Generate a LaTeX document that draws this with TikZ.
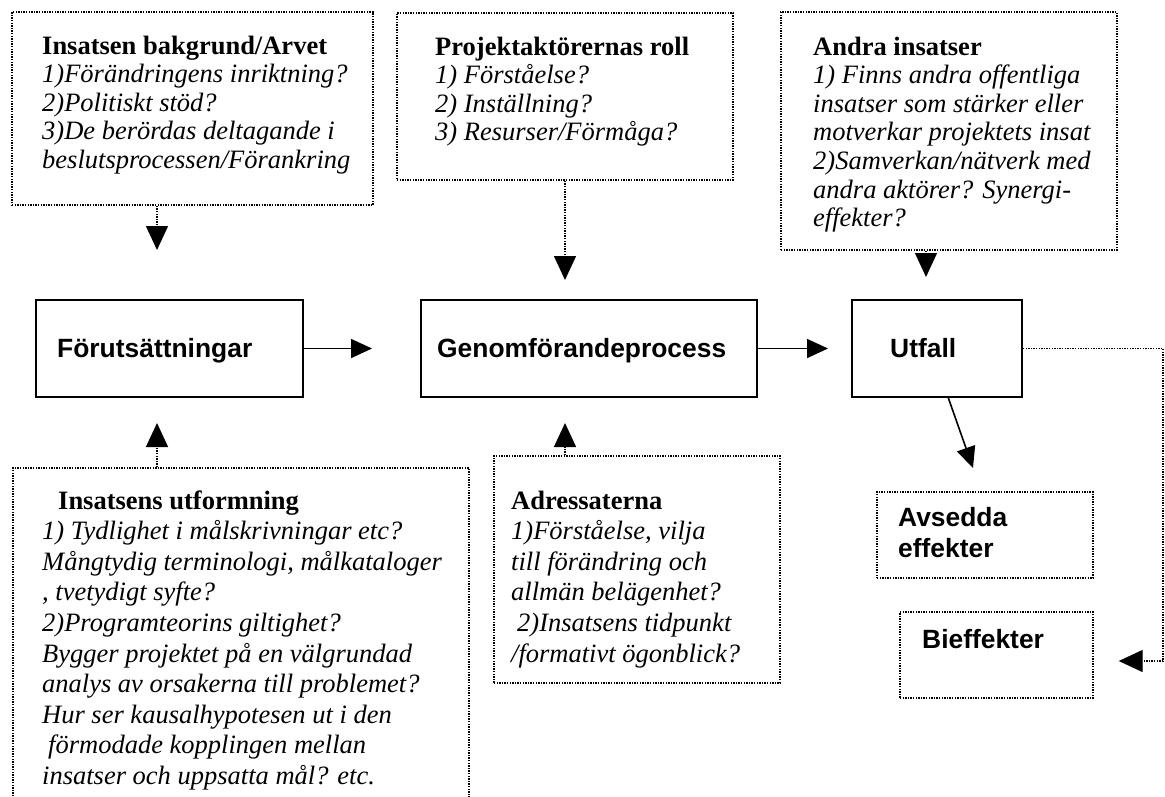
\documentclass[tikz,border=0pt]{standalone}
\usepackage{fontspec}
\setmainfont{Liberation Serif}
\setsansfont{Liberation Sans}
\usetikzlibrary{arrows.meta}
\newcommand\txtlines[1]{\vtop{\lineskiplimit=-100pt\lineskip=0pt\halign{##\hfil\cr#1\crcr}}}
\tikzset{
  solidbox/.style={draw, line width=2pt, inner sep=0pt},
  dotbox/.style={draw, line width=1.4pt, dash pattern=on 1.4pt off 1.2pt, inner sep=0pt},
  sarrow/.style={line width=1.6pt, -{Triangle[width=19pt,length=21pt]}},
  darrow/.style={line width=1.4pt, dash pattern=on 1.4pt off 1.2pt, -{Triangle[width=22pt,length=24pt]}},
  sertop/.style={anchor=base west, inner sep=0pt, font=\fontsize{26.5}{28.6}\selectfont},
  serbot/.style={anchor=base west, inner sep=0pt, font=\fontsize{26.5}{30.6}\selectfont},
  santext/.style={anchor=base west, inner sep=0pt, font=\sffamily\bfseries\fontsize{26.4}{31.7}\selectfont},
}
\begin{document}
\begin{tikzpicture}[x=1pt,y=-1pt]
\useasboundingbox (0,0) rectangle (1165,796);
\clip (0,0) rectangle (1165,796);

% top dotted boxes
\node[dotbox, minimum width=361pt, minimum height=193pt] (TL) at (192.5,108.5) {};
\node[dotbox, minimum width=336pt, minimum height=167pt] (TM) at (565,96.5) {};
\node[dotbox, minimum width=336pt, minimum height=238pt] (TR) at (949,131) {};

\node[sertop] (TLt) at (42,54) {\txtlines{%
\textbf{Insatsen bakgrund/Arvet}\cr
\textit{1)Förändringens inriktning?}\cr
\textit{2)Politiskt stöd?}\cr
\textit{3)De berördas deltagande i}\cr
\textit{beslutsprocessen/Förankring}}};

\node[sertop] (TMt) at (435,55) {\txtlines{%
\textbf{Projektaktörernas roll}\cr
\textit{1) Förståelse?}\cr
\textit{2) Inställning?}\cr
\textit{3) Resurser/Förmåga?}}};

\node[sertop] (TRt) at (813,55) {\txtlines{%
\textbf{Andra insatser}\cr
\textit{1) Finns andra offentliga}\cr
\textit{insatser som stärker eller}\cr
\textit{motverkar projektets insat}\cr
\textit{2)Samverkan/nätverk med}\cr
\textit{andra aktörer? Synergi-}\cr
\textit{effekter?}}};

% main solid boxes
\node[solidbox, minimum width=267pt, minimum height=97pt] (F) at (169.5,348.5) {};
\node[solidbox, minimum width=336pt, minimum height=97pt] (G) at (589,348.5) {};
\node[solidbox, minimum width=170pt, minimum height=97pt] (U) at (937,348.5) {};
\node[santext] (Ft) at (57,357) {Förutsättningar};
\node[santext] (Gt) at (437,357) {Genomförandeprocess};
\node[santext] (Ut) at (890,357) {Utfall};

% effect boxes
\node[dotbox, minimum width=216pt, minimum height=86pt] (A) at (985,535) {};
\node[dotbox, minimum width=193pt, minimum height=86pt] (B) at (996.5,655) {};
\node[santext] (At) at (898,526) {\txtlines{Avsedda\cr effekter}};
\node[santext] (Bt) at (922,648) {Bieffekter};

% bottom dotted boxes
\node[dotbox, minimum width=456pt, minimum height=360pt] (BL) at (241,648) {};
\node[dotbox, minimum width=286pt, minimum height=227pt] (AD) at (637,569.5) {};

\node[serbot] (BLt) at (42,509) {\txtlines{%
\hspace*{16pt}\textbf{Insatsens utformning}\cr
\textit{1) Tydlighet i målskrivningar etc?}\cr
\textit{Mångtydig terminologi, målkataloger}\cr
\textit{, tvetydigt syfte?}\cr
\textit{2)Programteorins giltighet?}\cr
\textit{Bygger projektet på en välgrundad}\cr
\textit{analys av orsakerna till problemet?}\cr
\textit{Hur ser kausalhypotesen ut i den}\cr
\hspace*{6pt}\textit{förmodade kopplingen mellan}\cr
\textit{insatser och uppsatta mål? etc.}}};

\node[serbot] (ADt) at (511,509) {\txtlines{%
\textbf{Adressaterna}\cr
\textit{1)Förståelse, vilja}\cr
\textit{till förändring och}\cr
\textit{allmän belägenhet?}\cr
\hspace*{6pt}\textit{2)Insatsens tidpunkt}\cr
\textit{/formativt ögonblick?}}};

% free ends of connectors
\coordinate (tTL) at (157,250);
\coordinate (tTM) at (565,280);
\coordinate (tTR) at (926,277);
\coordinate (tBL) at (157,423);
\coordinate (tAD) at (565,423);
\coordinate (uS) at (948,397);
\coordinate (tA) at (973,468);
\coordinate (rc) at (1163,661);

% connectors
\draw[darrow] (TL.south -| tTL) -- (tTL);
\draw[darrow] (TM.south -| tTM) -- (tTM);
\draw[darrow] (TR.south -| tTR) -- (tTR);
\draw[darrow] (BL.north -| tBL) -- (tBL);
\draw[darrow] (AD.north -| tAD) -- (tAD);
\draw[sarrow, shorten >=48pt] (F.east) -- (G.west);
\draw[sarrow, shorten >=23pt] (G.east) -- (U.west);
\draw[sarrow] (uS) -- (tA);
\draw[darrow, shorten >=25pt] (U.east) -| (rc) -- (rc -| B.east);
\end{tikzpicture}
\end{document}
